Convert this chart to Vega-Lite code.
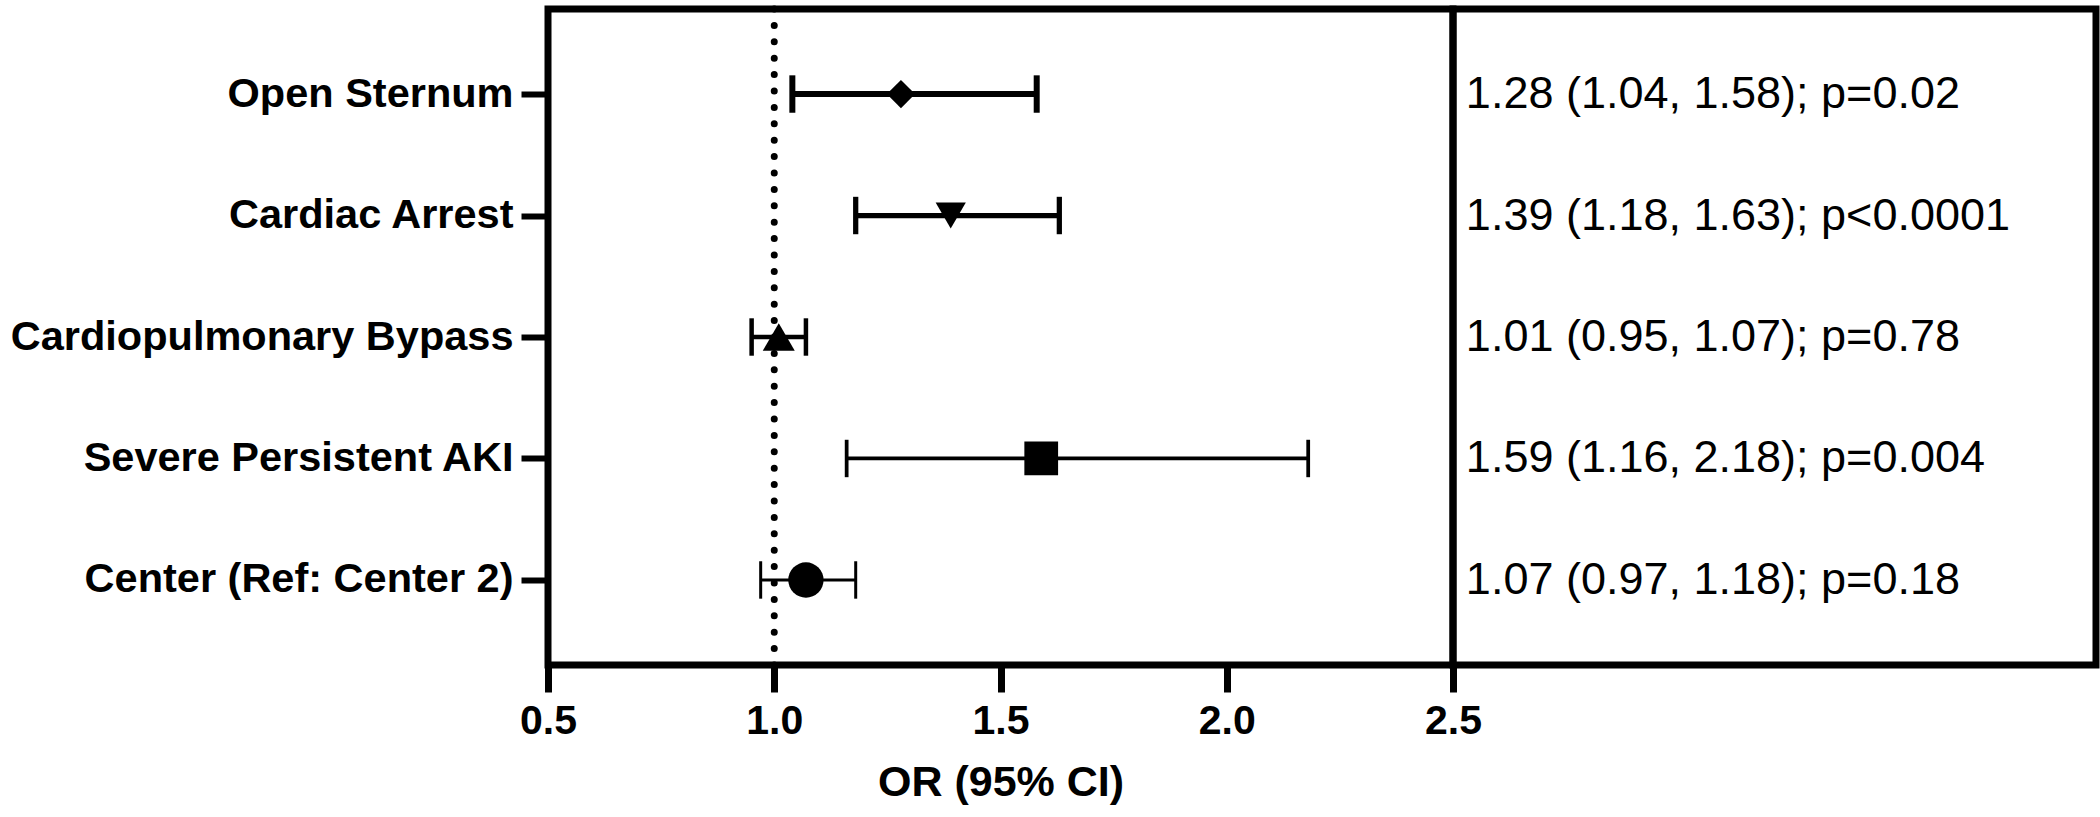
{
  "$schema": "https://vega.github.io/schema/vega-lite/v6.json",
  "padding": {"left": 6, "top": 2, "right": 5, "bottom": 5},
  "background": "white",
  "config": {
    "font": "Liberation Sans",
    "view": {"stroke": "black", "strokeWidth": 7},
    "axis": {"grid": false}
  },
  "data": {"values": [
    {"label": "Open Sternum", "or": 1.28, "lo": 1.04, "hi": 1.58, "text": "1.28 (1.04, 1.58); p=0.02"},
    {"label": "Cardiac Arrest", "or": 1.39, "lo": 1.18, "hi": 1.63, "text": "1.39 (1.18, 1.63); p<0.0001"},
    {"label": "Cardiopulmonary Bypass", "or": 1.01, "lo": 0.95, "hi": 1.07, "text": "1.01 (0.95, 1.07); p=0.78"},
    {"label": "Severe Persistent AKI", "or": 1.59, "lo": 1.16, "hi": 2.18, "text": "1.59 (1.16, 2.18); p=0.004"},
    {"label": "Center (Ref: Center 2)", "or": 1.07, "lo": 0.97, "hi": 1.18, "text": "1.07 (0.97, 1.18); p=0.18"}
  ]},
  "spacing": 0,
  "bounds": "flush",
  "resolve": {"scale": {"x": "independent", "y": "shared"}, "axis": {"x": "independent", "y": "independent"}},
  "hconcat": [
    {
      "width": 905,
      "height": 656,
      "encoding": {
        "y": {
          "field": "label", "type": "nominal", "title": null,
          "sort": ["Open Sternum", "Cardiac Arrest", "Cardiopulmonary Bypass", "Severe Persistent AKI", "Center (Ref: Center 2)"],
          "scale": {"type": "point", "padding": 0.7},
          "axis": {"labelFontSize": 41.5, "labelFontWeight": "bold", "labelColor": "black", "tickSize": 27, "tickWidth": 6, "tickColor": "black", "labelPadding": 8, "domain": false, "labelLimit": 1000}
        }
      },
      "layer": [
        {
          "data": {"values": [{"ref": 1}]},
          "mark": {"type": "rule", "strokeDash": [0, 16.4], "strokeCap": "round", "strokeWidth": 7, "color": "black"},
          "encoding": {
            "y": null,
            "x": {"field": "ref", "type": "quantitative", "title": "OR (95% CI)",
              "scale": {"domain": [0.5, 2.5], "nice": false, "zero": false},
              "axis": {"values": [0.5, 1, 1.5, 2, 2.5], "format": ".1f", "labelFontSize": 41, "labelFontWeight": "bold", "labelColor": "black", "tickSize": 27, "tickWidth": 7, "tickColor": "black", "domain": false, "labelPadding": 9, "labelFlush": false, "titleFontSize": 43, "titleFontWeight": "bold", "titleColor": "black", "titlePadding": 20}
            }
          }
        },
        {
          "mark": {"type": "rule", "color": "black"},
          "encoding": {
            "x": {"field": "lo", "type": "quantitative", "title": "OR (95% CI)"},
            "x2": {"field": "hi"},
            "strokeWidth": {"field": "label", "type": "nominal", "legend": null,
              "scale": {"domain": ["Open Sternum", "Cardiac Arrest", "Cardiopulmonary Bypass", "Severe Persistent AKI", "Center (Ref: Center 2)"], "range": [6, 3, 4, 3.5, 3.5]}}
          }
        },
        {
          "transform": [{"fold": ["lo", "hi"], "as": ["end", "val"]}],
          "mark": {"type": "point", "shape": "M0,-1L0,1", "filled": false, "size": 1400, "color": "black", "opacity": 1, "strokeCap": "butt"},
          "encoding": {
            "x": {"field": "val", "type": "quantitative", "title": "OR (95% CI)"},
            "strokeWidth": {"field": "label", "type": "nominal", "legend": null}
          }
        },
        {
          "mark": {"type": "point", "filled": true, "color": "black", "opacity": 1},
          "encoding": {
            "x": {"field": "or", "type": "quantitative", "title": "OR (95% CI)"},
            "shape": {"field": "label", "type": "nominal", "legend": null,
              "scale": {"domain": ["Open Sternum", "Cardiac Arrest", "Cardiopulmonary Bypass", "Severe Persistent AKI", "Center (Ref: Center 2)"], "range": ["diamond", "triangle-down", "triangle-up", "square", "circle"]}},
            "size": {"field": "label", "type": "nominal", "legend": null,
              "scale": {"domain": ["Open Sternum", "Cardiac Arrest", "Cardiopulmonary Bypass", "Severe Persistent AKI", "Center (Ref: Center 2)"], "range": [800, 1250, 1250, 770, 760]}}
          }
        }
      ]
    },
    {
      "width": 643,
      "height": 656,
      "mark": {"type": "text", "align": "left", "baseline": "middle", "fontSize": 45, "color": "black"},
      "encoding": {
        "y": {
          "field": "label", "type": "nominal", "title": null,
          "sort": ["Open Sternum", "Cardiac Arrest", "Cardiopulmonary Bypass", "Severe Persistent AKI", "Center (Ref: Center 2)"],
          "scale": {"type": "point", "padding": 0.7},
          "axis": null
        },
        "x": {"datum": 0.02, "type": "quantitative", "scale": {"domain": [0, 1]}, "axis": null},
        "text": {"field": "text"}
      }
    }
  ]
}
